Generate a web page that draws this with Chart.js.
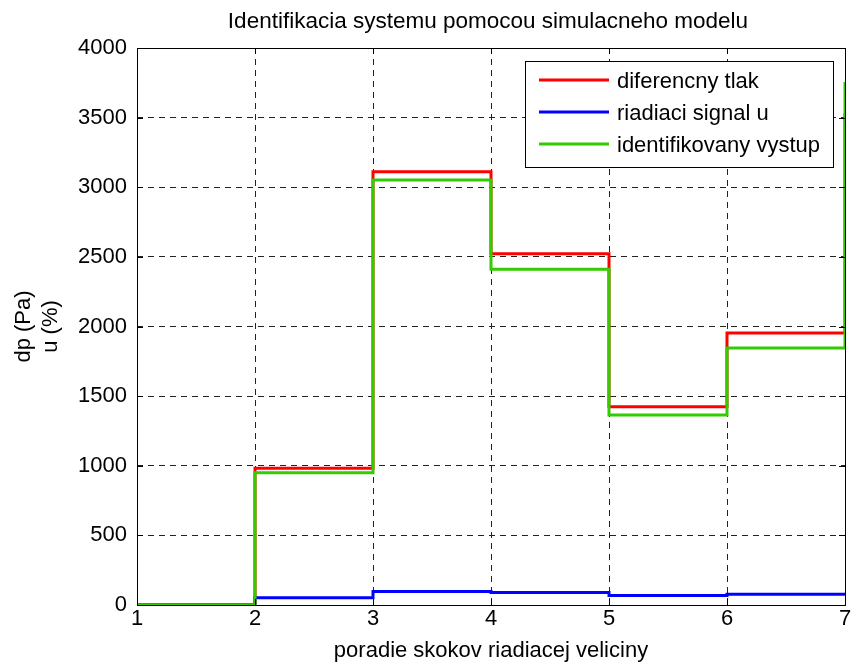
<!DOCTYPE html>
<html>
<head>
<meta charset="utf-8">
<script src="https://cdn.jsdelivr.net/npm/chart.js@4"></script>
<style>
  html, body { margin: 0; padding: 0; background: #fff; }
  #wrap { width: 854px; height: 664px; }
</style>
</head>
<body>
<div id="wrap"><canvas id="graf"></canvas></div>
<script>
// udaje odcitane z grafu
const skoky = [1, 2, 3, 4, 5, 6, 7];
const tlak = [0, 982, 3112, 2523, 1424, 1953, 3530];
const signal = [0, 52, 97, 90, 68, 78, 78];
const vystup = [0, 950, 3052, 2411, 1364, 1846, 3756];
const nazvy = ['diferencny tlak', 'riadiaci signal u', 'identifikovany vystup'];
const farby = ['#ff0000', '#0000ff', '#33cc00'];

const pismo = 'Liberation Sans, Arial, Helvetica, sans-serif';
Chart.defaults.font.family = pismo;
Chart.defaults.color = '#000';

function body(hodnoty) {
  return skoky.map((x, i) => ({ x: x, y: hodnoty[i] }));
}

// ram, titulok a legenda v style matlabu
const matlabPlugin = {
  id: 'matlab',
  afterDraw(chart) {
    const ctx = chart.ctx;
    const a = chart.chartArea;
    ctx.save();
    // ram okolo grafu
    ctx.strokeStyle = '#000';
    ctx.lineWidth = 1;
    ctx.strokeRect(a.left + 0.5, a.top + 0.5, a.right - a.left, a.bottom - a.top);
    // kratke znacky dovnutra
    const xs = chart.scales.x, ys = chart.scales.y;
    ctx.beginPath();
    xs.ticks.forEach(t => {
      const px = Math.round(xs.getPixelForValue(t.value)) + 0.5;
      ctx.moveTo(px, a.bottom); ctx.lineTo(px, a.bottom - 6);
      ctx.moveTo(px, a.top); ctx.lineTo(px, a.top + 6);
    });
    ys.ticks.forEach(t => {
      const py = Math.round(ys.getPixelForValue(t.value)) + 0.5;
      ctx.moveTo(a.left, py); ctx.lineTo(a.left + 6, py);
      ctx.moveTo(a.right, py); ctx.lineTo(a.right - 6, py);
    });
    ctx.stroke();

    // titulok
    ctx.fillStyle = '#000';
    ctx.font = '22.5px ' + pismo;
    ctx.textAlign = 'center';
    ctx.textBaseline = 'alphabetic';
    ctx.fillText('Identifikacia systemu pomocou simulacneho modelu', (a.left + a.right) / 2 - 3, 28);

    // legenda
    const lx = a.right - 320, ly = a.top + 13, lw = 308, lh = 106;
    ctx.fillStyle = '#fff';
    ctx.fillRect(lx, ly, lw, lh);
    ctx.strokeStyle = '#000';
    ctx.strokeRect(lx + 0.5, ly + 0.5, lw, lh);
    ctx.textAlign = 'left';
    ctx.font = '22px ' + pismo;
    chart.data.datasets.forEach((ds, i) => {
      const ry = ly + 19 + i * 32;
      ctx.strokeStyle = ds.borderColor;
      ctx.lineWidth = 3;
      ctx.beginPath();
      ctx.moveTo(lx + 14, ry);
      ctx.lineTo(lx + 84, ry);
      ctx.stroke();
      ctx.fillStyle = '#000';
      ctx.fillText(ds.label, lx + 92, ry + 8);
    });
    ctx.restore();
  }
};

const ctx = document.getElementById('graf').getContext('2d');
new Chart(ctx, {
  type: 'line',
  data: {
    datasets: [
      { label: nazvy[0], data: body(tlak), borderColor: farby[0], order: 2 },
      { label: nazvy[1], data: body(signal), borderColor: farby[1], order: 1 },
      { label: nazvy[2], data: body(vystup), borderColor: farby[2], order: 0 }
    ]
  },
  options: {
    responsive: true,
    maintainAspectRatio: false,
    animation: false,
    layout: { padding: { top: 48, right: 9, left: 0, bottom: 0 } },
    elements: {
      line: { borderWidth: 3, stepped: true, tension: 0 },
      point: { radius: 0 }
    },
    plugins: {
      legend: { display: false },
      tooltip: { enabled: false }
    },
    scales: {
      x: {
        type: 'linear',
        min: 1,
        max: 7,
        ticks: { stepSize: 1, padding: 1, font: { size: 22 }, callback: v => String(v) },
        grid: { color: '#222', drawTicks: false },
        border: { display: false, dash: [6, 5] },
        title: {
          display: true,
          text: 'poradie skokov riadiacej veliciny',
          font: { size: 22, lineHeight: 1.2 },
          padding: { top: 0, bottom: 0 }
        },
        afterFit(scale) { scale.height = 59; }
      },
      y: {
        min: 0,
        max: 4000,
        ticks: { stepSize: 500, padding: 10, font: { size: 22 }, callback: v => String(v) },
        grid: { color: '#222', drawTicks: false },
        border: { display: false, dash: [6, 5] },
        title: {
          display: true,
          text: ['dp (Pa)', 'u (%)'],
          font: { size: 22, lineHeight: 1.25 },
          padding: { top: 10, bottom: 0 }
        },
        afterFit(scale) { scale.width = 137; }
      }
    }
  },
  plugins: [matlabPlugin]
});
</script>
</body>
</html>
